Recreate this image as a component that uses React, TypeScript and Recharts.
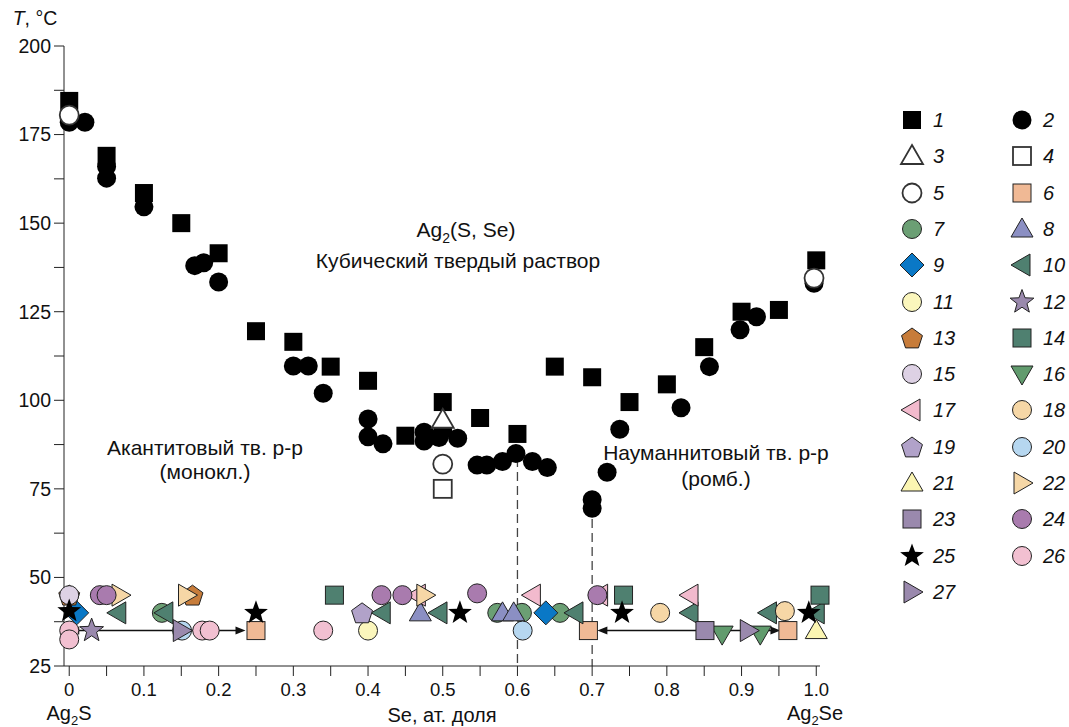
import React from 'react';
import { ScatterChart, Scatter, XAxis, YAxis, ReferenceLine } from 'recharts';

// Se mole fraction vs temperature, one list per legend entry
const s1 = [[0, 184.5], [0.05, 169], [0.1, 158.5], [0.15, 150], [0.2, 141.5], [0.25, 119.5], [0.3, 116.5], [0.35, 109.5], [0.4, 105.5], [0.45, 90], [0.5, 99.5], [0.55, 95], [0.6, 90.5], [0.65, 109.5], [0.7, 106.5], [0.75, 99.5], [0.8, 104.5], [0.85, 115], [0.9, 125], [0.95, 125.5], [1.0, 139.5]];
const s2 = [[0, 178.5], [0.021, 178.5], [0.05, 166], [0.05, 162.7], [0.1, 154.6], [0.168, 138], [0.18, 138.8], [0.2, 133.4], [0.3, 109.7], [0.32, 109.7], [0.34, 102], [0.4, 94.7], [0.4, 89.7], [0.42, 87.7], [0.475, 91], [0.475, 88.5], [0.495, 89.5], [0.5, 91.5], [0.52, 89.3], [0.546, 81.7], [0.559, 81.7], [0.58, 82.7], [0.598, 85], [0.62, 82.7], [0.64, 81], [0.7, 71.9], [0.7, 69.5], [0.72, 79.7], [0.737, 91.8], [0.819, 97.9], [0.857, 109.5], [0.898, 119.9], [0.92, 123.6], [0.997, 133]];
const s3 = [[0.5, 94.5]];
const s4 = [[0.5, 75]];
const s5 = [[0, 180.5], [0.5, 82], [0.997, 134.5]];
const s6 = [[0.25, 35], [0.695, 35], [0.962, 35]];
const s7 = [[0.124, 40], [0.573, 40], [0.606, 40], [0.657, 40]];
const s8 = [[0.47, 40], [0.58, 40], [0.595, 40]];
const s9 = [[0.01, 40], [0.638, 40]];
const s10 = [[0.065, 40], [0.128, 40], [0.419, 40], [0.495, 40], [0.677, 40], [0.831, 40], [0.936, 40], [1.0, 40]];
const s11 = [[0.4, 35]];
const s12 = [[0.03, 35]];
const s13 = [[0, 45], [0.165, 45]];
const s14 = [[0.355, 45], [0.742, 45], [1.005, 45]];
const s15 = [[0, 45]];
const s16 = [[0.874, 34], [0.925, 34]];
const s17 = [[0.466, 45], [0.62, 45], [0.71, 45], [0.831, 45]];
const s18 = [[0.791, 40], [0.958, 40.5]];
const s19 = [[0.392, 40]];
const s20 = [[0.151, 35], [0.607, 35]];
const s21 = [[1.0, 35]];
const s22 = [[0.068, 45], [0.157, 45], [0.476, 45]];
const s23 = [[0.851, 35]];
const s24 = [[0.041, 45], [0.05, 45], [0.418, 45], [0.446, 45], [0.546, 45.5], [0.707, 45]];
const s25 = [[0, 40.5], [0.25, 40], [0.523, 40], [0.74, 40], [0.99, 40]];
const s26 = [[0, 35], [0, 32.5], [0.178, 35], [0.188, 35], [0.34, 35]];
const s27 = [[0.15, 35], [0.909, 35]];

const xTicks = [0, 0.05, 0.1, 0.15, 0.2, 0.25, 0.3, 0.35, 0.4, 0.45, 0.5, 0.55, 0.6, 0.65, 0.7, 0.75, 0.8, 0.85, 0.9, 0.95, 1.0];
const yTicks = [25, 37.5, 50, 62.5, 75, 87.5, 100, 112.5, 125, 137.5, 150, 162.5, 175, 187.5, 200];

// two-phase regions: [from, to] at 35 °C
const arrowSpans = [[0, 0.236], [0.707, 0.952]];
const arrowT = 35;
// transition lines: [x, top T]
const dashLines = [[0.6, 83.7], [0.7, 66.5]];

type Kind = 'square' | 'circle' | 'triUp' | 'triDown' | 'triLeft' | 'triRight' | 'diamond' | 'star' | 'pentagon';
type Meta = { id: number; kind: Kind; fill: string; stroke: string; sw: number; data: number[][] };

const OUT = '#222';
const series: Meta[] = [
  { id: 1, kind: 'square', fill: '#000', stroke: '#000', sw: 0, data: s1 },
  { id: 2, kind: 'circle', fill: '#000', stroke: '#000', sw: 0, data: s2 },
  { id: 3, kind: 'triUp', fill: '#fff', stroke: '#333', sw: 1.8, data: s3 },
  { id: 4, kind: 'square', fill: '#fff', stroke: '#333', sw: 1.8, data: s4 },
  { id: 5, kind: 'circle', fill: '#fff', stroke: '#333', sw: 1.8, data: s5 },
  { id: 6, kind: 'square', fill: '#f0b995', stroke: OUT, sw: 1, data: s6 },
  { id: 7, kind: 'circle', fill: '#6b9f74', stroke: OUT, sw: 1, data: s7 },
  { id: 8, kind: 'triUp', fill: '#8b8fc3', stroke: OUT, sw: 1, data: s8 },
  { id: 9, kind: 'diamond', fill: '#0a78c6', stroke: OUT, sw: 1, data: s9 },
  { id: 10, kind: 'triLeft', fill: '#4f8070', stroke: OUT, sw: 1, data: s10 },
  { id: 11, kind: 'circle', fill: '#fbf6bc', stroke: OUT, sw: 1, data: s11 },
  { id: 12, kind: 'star', fill: '#9a89ad', stroke: OUT, sw: 1, data: s12 },
  { id: 13, kind: 'pentagon', fill: '#c77c3a', stroke: OUT, sw: 1, data: s13 },
  { id: 14, kind: 'square', fill: '#4f8070', stroke: OUT, sw: 1, data: s14 },
  { id: 15, kind: 'circle', fill: '#ddd1e4', stroke: OUT, sw: 1, data: s15 },
  { id: 16, kind: 'triDown', fill: '#619b6d', stroke: OUT, sw: 1, data: s16 },
  { id: 17, kind: 'triLeft', fill: '#f2bacd', stroke: OUT, sw: 1, data: s17 },
  { id: 18, kind: 'circle', fill: '#f6d7a6', stroke: OUT, sw: 1, data: s18 },
  { id: 19, kind: 'pentagon', fill: '#b1a2c9', stroke: OUT, sw: 1, data: s19 },
  { id: 20, kind: 'circle', fill: '#b6d7f0', stroke: OUT, sw: 1, data: s20 },
  { id: 21, kind: 'triUp', fill: '#fbf5b2', stroke: OUT, sw: 1, data: s21 },
  { id: 22, kind: 'triRight', fill: '#f6d7a6', stroke: OUT, sw: 1, data: s22 },
  { id: 23, kind: 'square', fill: '#9a89ad', stroke: OUT, sw: 1, data: s23 },
  { id: 24, kind: 'circle', fill: '#a97bae', stroke: OUT, sw: 1, data: s24 },
  { id: 25, kind: 'star', fill: '#000', stroke: '#000', sw: 0, data: s25 },
  { id: 26, kind: 'circle', fill: '#f2c0d1', stroke: OUT, sw: 1, data: s26 },
  { id: 27, kind: 'triRight', fill: '#9a89ad', stroke: OUT, sw: 1, data: s27 },
];

function poly(pts: number[][]) {
  return pts.map((p) => p.join(',')).join(' ');
}

function Marker({ cx, cy, m }: { cx: number; cy: number; m: Meta }) {
  const st = { fill: m.fill, stroke: m.stroke, strokeWidth: m.sw, strokeLinejoin: 'miter' as const };
  switch (m.kind) {
    case 'square':
      return <rect x={cx - 9} y={cy - 9} width={18} height={18} {...st} />;
    case 'circle':
      return <circle cx={cx} cy={cy} r={9.5} {...st} />;
    case 'triUp':
      return <polygon points={poly([[cx, cy - 11], [cx + 11, cy + 8], [cx - 11, cy + 8]])} {...st} />;
    case 'triDown':
      return <polygon points={poly([[cx - 11, cy - 8], [cx + 11, cy - 8], [cx, cy + 11]])} {...st} />;
    case 'triLeft':
      return <polygon points={poly([[cx - 11, cy], [cx + 8, cy - 11], [cx + 8, cy + 11]])} {...st} />;
    case 'triRight':
      return <polygon points={poly([[cx + 11, cy], [cx - 8, cy - 11], [cx - 8, cy + 11]])} {...st} />;
    case 'diamond':
      return <polygon points={poly([[cx, cy - 12], [cx + 12, cy], [cx, cy + 12], [cx - 12, cy]])} {...st} />;
    case 'star': {
      const pts: number[][] = [];
      for (let i = 0; i < 10; i++) {
        const r = i % 2 === 0 ? 12.5 : 5.2;
        const a = -Math.PI / 2 + (i * Math.PI) / 5;
        pts.push([cx + r * Math.cos(a), cy + r * Math.sin(a)]);
      }
      return <polygon points={poly(pts)} {...st} />;
    }
    case 'pentagon': {
      const pts: number[][] = [];
      for (let i = 0; i < 5; i++) {
        const a = -Math.PI / 2 + (i * 2 * Math.PI) / 5;
        pts.push([cx + 11 * Math.cos(a), cy + 1 + 11 * Math.sin(a)]);
      }
      return <polygon points={poly(pts)} {...st} />;
    }
  }
  return null;
}

function Arrow(p: any) {
  const { x1, y1, x2, y2 } = p;
  const h = 10;
  const w = 4;
  return (
    <g>
      <line x1={x1 + 4} y1={y1} x2={x2 - 4} y2={y2} stroke="#111" strokeWidth={1.6} />
      <polygon points={poly([[x1, y1], [x1 + h, y1 - w], [x1 + h, y1 + w]])} fill="#111" />
      <polygon points={poly([[x2, y2], [x2 - h, y2 - w], [x2 - h, y2 + w]])} fill="#111" />
    </g>
  );
}

const FONT = '"Liberation Sans", Arial, sans-serif';

const fmtX = (v: number) => {
  const r = Math.round(v * 100);
  if (r % 10 !== 0) return '';
  return r === 0 ? '0' : v.toFixed(1);
};
const fmtY = (v: number) => (v % 25 === 0 ? String(v) : '');

function Txt({ x, y, children, size = 21, style }: any) {
  return (
    <div
      style={{
        position: 'absolute',
        left: x,
        top: y,
        transform: 'translate(-50%, -50%)',
        whiteSpace: 'nowrap',
        fontSize: size,
        fontFamily: FONT,
        color: '#111',
        lineHeight: 1,
        ...style,
      }}
    >
      {children}
    </div>
  );
}

function LegendBox() {
  return (
    <>
      {series.map((m, i) => {
        const col = i % 2;
        const row = Math.floor(i / 2);
        const x = col === 0 ? 912 : 1022;
        const y = 120 + row * 36.3;
        return (
          <React.Fragment key={m.id}>
            <svg style={{ position: 'absolute', left: x - 15, top: y - 15 }} width={30} height={30}>
              <Marker cx={15} cy={15} m={m} />
            </svg>
            <div
              style={{
                position: 'absolute',
                left: x + 21,
                top: y - 11,
                fontSize: 20,
                lineHeight: '22px',
                fontStyle: 'italic',
                fontFamily: FONT,
                color: '#111',
              }}
            >
              {m.id}
            </div>
          </React.Fragment>
        );
      })}
    </>
  );
}

export default function App() {
  return (
    <div style={{ position: 'absolute', left: 0, top: 0, width: 1069, height: 727, background: '#fff' }}>
      <ScatterChart width={1069} height={727} margin={{ top: 46, right: 249, bottom: 40, left: 34 }}>
        <XAxis
          type="number"
          dataKey="x"
          domain={[-0.007, 1.005]}
          ticks={xTicks}
          tickFormatter={fmtX}
          interval={0}
          height={21}
          tickSize={10}
          tickMargin={7}
          stroke="#222"
          tick={{ fill: '#111', fontSize: 18.5, fontFamily: FONT }}
        />
        <YAxis
          type="number"
          dataKey="y"
          domain={[25, 200]}
          ticks={yTicks}
          tickFormatter={fmtY}
          interval={0}
          width={30}
          tickSize={10}
          tickMargin={3}
          stroke="#222"
          tick={{ fill: '#111', fontSize: 19.5, fontFamily: FONT }}
        />
        {dashLines.map(([x, top]) => (
          <ReferenceLine
            key={x}
            segment={[{ x, y: top }, { x, y: 25 }]}
            stroke="#444"
            strokeWidth={1.3}
            strokeDasharray="9 5"
          />
        ))}
        {series.map((m) => (
          <Scatter
            key={m.id}
            name={String(m.id)}
            data={m.data.map(([x, y]) => ({ x, y }))}
            isAnimationActive={false}
            shape={(p: any) => <Marker cx={p.cx} cy={p.cy} m={m} />}
          />
        ))}
        {arrowSpans.map(([a, b]) => (
          <ReferenceLine key={a} segment={[{ x: a, y: arrowT }, { x: b, y: arrowT }]} shape={Arrow} />
        ))}
      </ScatterChart>

      <Txt x={35} y={19} size={19.5}>
        <i>T</i>, °C
      </Txt>
      <Txt x={466} y={232}>
        Ag<sub style={{ fontSize: 14 }}>2</sub>(S, Se)
      </Txt>
      <Txt x={458} y={260}>Кубический твердый раствор</Txt>
      <Txt x={205} y={447}>Акантитовый тв. р-р</Txt>
      <Txt x={205} y={471}>(монокл.)</Txt>
      <Txt x={716} y={452}>Науманнитовый тв. р-р</Txt>
      <Txt x={716} y={478}>(ромб.)</Txt>
      <Txt x={69} y={715} size={20}>
        Ag<sub style={{ fontSize: 13 }}>2</sub>S
      </Txt>
      <Txt x={442} y={715} size={20}>Se, ат. доля</Txt>
      <Txt x={815} y={715} size={20}>
        Ag<sub style={{ fontSize: 13 }}>2</sub>Se
      </Txt>
      <LegendBox />
    </div>
  );
}
